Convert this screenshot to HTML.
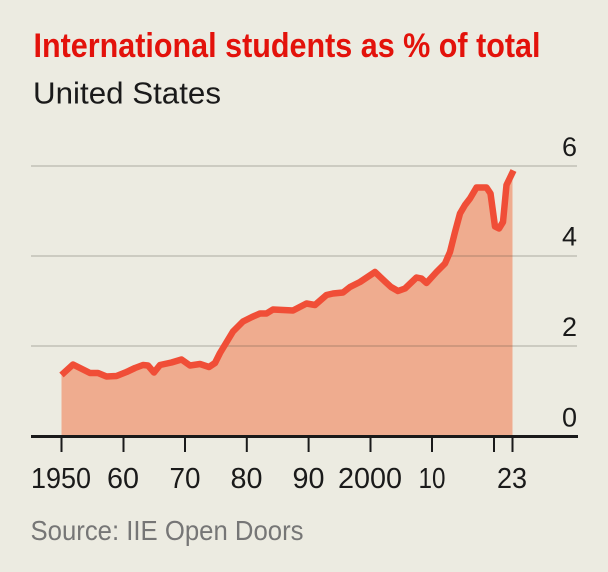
<!DOCTYPE html>
<html>
<head>
<meta charset="utf-8">
<style>
  html, body { margin:0; padding:0; background:#ecebe1; }
  svg { display:block; }
  text { font-family: "Liberation Sans", "DejaVu Sans", sans-serif; }
</style>
</head>
<body>
<svg width="608" height="572" viewBox="0 0 608 572" xmlns="http://www.w3.org/2000/svg">
  <rect x="0" y="0" width="608" height="572" fill="#ecebe1"/>

  <!-- Title -->
  <text x="33.5" y="57" font-size="34" font-weight="bold" fill="#e3120b" textLength="507" lengthAdjust="spacingAndGlyphs">International students as % of total</text>
  <text x="33" y="103.5" font-size="31" fill="#1a1a1a" textLength="188" lengthAdjust="spacingAndGlyphs">United States</text>

  <!-- Area -->
  <path fill="#efac8f" d="M61.5,436.5 L61.5,375 L73,364.5 L82,369 L90,373 L98,373 L106.5,376.5 L116.5,376 L126.5,372 L135,368 L143,365 L148,365.5 L154,372.5 L160,365 L171.5,362.5 L181.5,359.5 L190,365.5 L200,364 L209,367 L215,363 L220,353 L233,331.5 L243,321.5 L252,317 L260,313.5 L266.5,313.5 L273,309.5 L293,310.5 L306.5,303.5 L315,305 L326.5,295 L333,293.5 L343,292.5 L350,287 L360,282 L375,272 L385,281.5 L391,287 L398,291 L405,288.5 L416.5,277.5 L421.5,278.5 L426.5,283 L436.5,272 L445,263.5 L450,252 L455,232 L460,213.5 L465,205 L470,198.5 L476.5,187.5 L486.5,187.5 L490.5,193.5 L495,226.5 L499,228.5 L503,222 L506.5,185 L512.5,172 L512.5,436.5 Z"/>

  <!-- Gridlines -->
  <g stroke="rgba(60,60,50,0.18)" stroke-width="2">
    <line x1="31" y1="166" x2="577" y2="166"/>
    <line x1="31" y1="256" x2="577" y2="256"/>
    <line x1="31" y1="346" x2="577" y2="346"/>
  </g>

  <!-- Y labels -->
  <g font-size="27" fill="#1a1a1a" text-anchor="end">
    <text x="577" y="156">6</text>
    <text x="577" y="245.5">4</text>
    <text x="577" y="336">2</text>
    <text x="577" y="426.5">0</text>
  </g>

  <!-- Line -->
  <polyline fill="none" stroke="#f04e37" stroke-width="6.5" stroke-linejoin="round" stroke-linecap="butt"
    points="61.5,375 73,364.5 82,369 90,373 98,373 106.5,376.5 116.5,376 126.5,372 135,368 143,365 148,365.5 154,372.5 160,365 171.5,362.5 181.5,359.5 190,365.5 200,364 209,367 215,363 220,353 233,331.5 243,321.5 252,317 260,313.5 266.5,313.5 273,309.5 293,310.5 306.5,303.5 315,305 326.5,295 333,293.5 343,292.5 350,287 360,282 375,272 385,281.5 391,287 398,291 405,288.5 416.5,277.5 421.5,278.5 426.5,283 436.5,272 445,263.5 450,252 455,232 460,213.5 465,205 470,198.5 476.5,187.5 486.5,187.5 490.5,193.5 495,226.5 499,228.5 503,222 506.5,185 513.5,170.5"/>

  <!-- Axis -->
  <line x1="31" y1="436.5" x2="578" y2="436.5" stroke="#1a1a1a" stroke-width="3"/>
  <g stroke="#1a1a1a" stroke-width="2">
    <line x1="61.5" y1="436" x2="61.5" y2="452"/>
    <line x1="123.5" y1="436" x2="123.5" y2="452"/>
    <line x1="185" y1="436" x2="185" y2="452"/>
    <line x1="246.8" y1="436" x2="246.8" y2="452"/>
    <line x1="308.6" y1="436" x2="308.6" y2="452"/>
    <line x1="370.5" y1="436" x2="370.5" y2="452"/>
    <line x1="432" y1="436" x2="432" y2="452"/>
    <line x1="494" y1="436" x2="494" y2="452"/>
    <line x1="512.5" y1="436" x2="512.5" y2="452"/>
  </g>

  <!-- X labels -->
  <g font-size="29" fill="#1a1a1a">
    <text x="31" y="488" textLength="60" lengthAdjust="spacingAndGlyphs">1950</text>
    <text x="107" y="488" textLength="32" lengthAdjust="spacingAndGlyphs">60</text>
    <text x="169.5" y="488" textLength="31" lengthAdjust="spacingAndGlyphs">70</text>
    <text x="230.5" y="488" textLength="32" lengthAdjust="spacingAndGlyphs">80</text>
    <text x="292.5" y="488" textLength="32" lengthAdjust="spacingAndGlyphs">90</text>
    <text x="338" y="488" textLength="64" lengthAdjust="spacingAndGlyphs">2000</text>
    <text x="418.5" y="488" textLength="27" lengthAdjust="spacingAndGlyphs">10</text>
    <text x="497" y="488" textLength="30" lengthAdjust="spacingAndGlyphs">23</text>
  </g>

  <!-- Source -->
  <text x="30.5" y="540" font-size="28" fill="#767676" textLength="273" lengthAdjust="spacingAndGlyphs">Source: IIE Open Doors</text>
</svg>
</body>
</html>
